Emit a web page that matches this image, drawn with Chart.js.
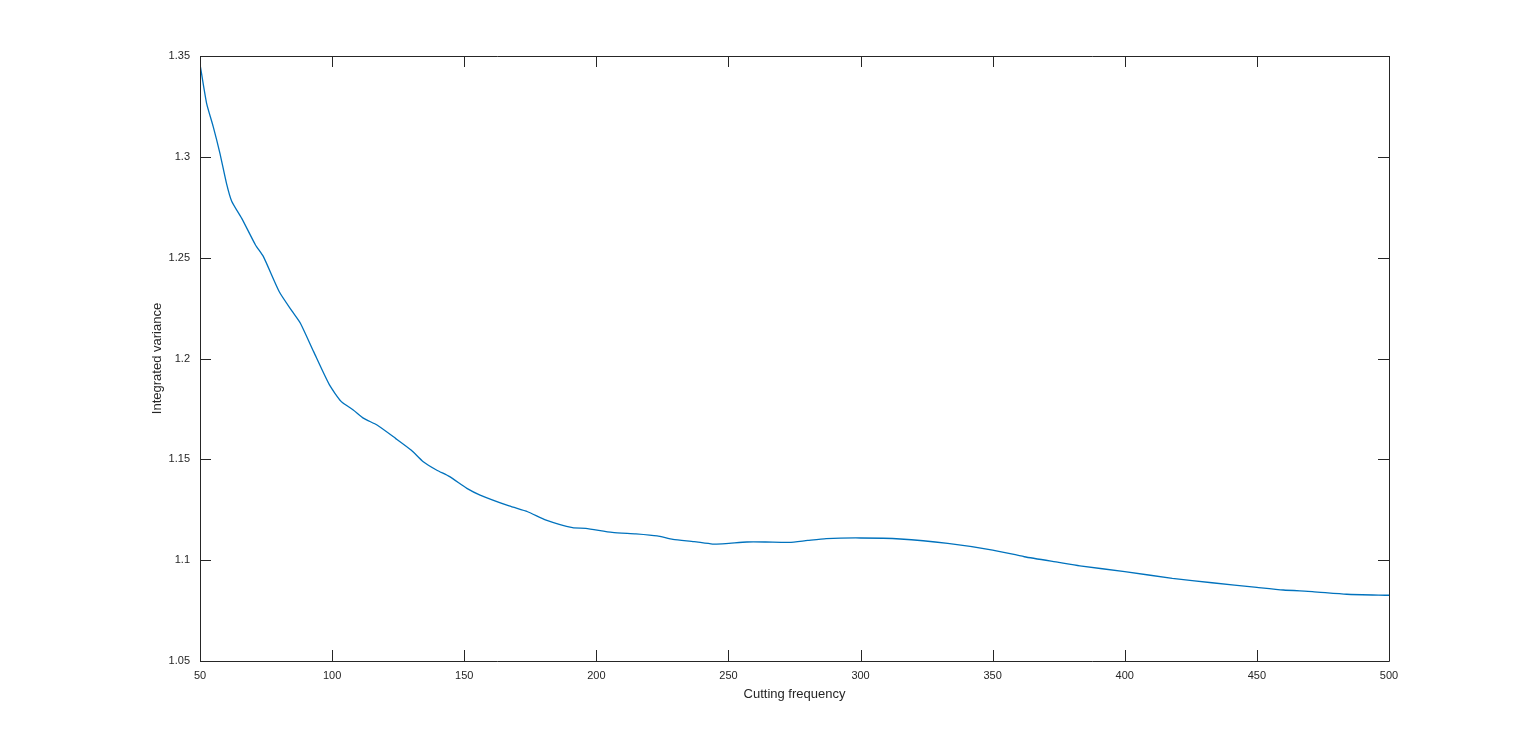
<!DOCTYPE html>
<html>
<head>
<meta charset="utf-8">
<script src="https://cdn.jsdelivr.net/npm/chart.js@4/dist/chart.umd.min.js"></script>
<style>
  html, body { margin: 0; padding: 0; background: #fff; }
  canvas { display: block; }
</style>
</head>
<body>
<canvas id="chart" width="1536" height="744"></canvas>
<script>
// values
var freq = [50, 52.5, 55, 57.5, 60, 62, 66, 71, 74, 80, 85, 88, 93, 99, 103.5, 108, 112, 117,
    124, 130, 134.5, 139.5, 144.5, 151, 156, 167, 174, 181, 191, 196, 206, 215, 223, 229,
    237, 244, 249, 257, 264, 273, 280, 287, 300, 315, 333, 350, 362, 375, 383, 400, 418,
    433, 450, 460, 471, 484, 500];
var variance = [1.346, 1.3265, 1.315, 1.302, 1.287, 1.278, 1.269, 1.2563, 1.2505, 1.2331,
    1.2232, 1.2175, 1.2034, 1.1869, 1.1786, 1.1745, 1.1703, 1.167, 1.1604, 1.1545, 1.1488,
    1.1447, 1.1414, 1.1356, 1.1323, 1.1269, 1.124, 1.1199, 1.1161, 1.1158, 1.1138, 1.113,
    1.112, 1.1103, 1.1092, 1.108, 1.1082, 1.109, 1.109, 1.1088, 1.1098, 1.1107, 1.111,
    1.1105, 1.1083, 1.105, 1.1017, 1.0989, 1.0972, 1.0943, 1.091, 1.0888, 1.0865, 1.0852,
    1.0844, 1.0831, 1.0826];
var xTicks = [50, 100, 150, 200, 250, 300, 350, 400, 450, 500];
var yTicks = [1.05, 1.1, 1.15, 1.2, 1.25, 1.3, 1.35];
var yTickLabels = ['1.05', '1.1', '1.15', '1.2', '1.25', '1.3', '1.35'];

var axisColor = '#262626';
var fontFamily = '"Liberation Sans", Arial, Helvetica, sans-serif';

// MATLAB style box with inward ticks on all four sides
var boxPlugin = {
    id: 'box',
    afterDraw: function (chart) {
        var c = chart.ctx, a = chart.chartArea;
        var xs = chart.scales.x, ys = chart.scales.y;
        var len = 11;
        c.save();
        c.strokeStyle = axisColor;
        c.lineWidth = 1;
        c.beginPath();
        c.rect(a.left + 0.5, a.top + 0.5, a.right - a.left, a.bottom - a.top);
        xTicks.forEach(function (v) {
            var px = Math.round(xs.getPixelForValue(v)) + 0.5;
            c.moveTo(px, a.bottom); c.lineTo(px, a.bottom - len);
            c.moveTo(px, a.top); c.lineTo(px, a.top + len);
        });
        yTicks.forEach(function (v) {
            var py = Math.round(ys.getPixelForValue(v)) + 0.5;
            c.moveTo(a.left, py); c.lineTo(a.left + len, py);
            c.moveTo(a.right, py); c.lineTo(a.right - len, py);
        });
        c.stroke();
        c.restore();
    }
};

var ctx = document.getElementById('chart').getContext('2d');
var myChart = new Chart(ctx, {
    type: 'line',
    data: {
        datasets: [{
            data: freq.map(function (f, i) { return { x: f, y: variance[i] }; }),
            borderColor: '#0072BD',
            borderWidth: 1.3,
            pointRadius: 0,
            tension: 0.2,
            fill: false
        }]
    },
    options: {
        responsive: false,
        devicePixelRatio: 1,
        animation: false,
        layout: { padding: { left: 140, right: 147, top: 56, bottom: 30 } },
        plugins: { legend: { display: false }, tooltip: { enabled: false } },
        scales: {
            x: {
                type: 'linear',
                min: 50, max: 500,
                afterBuildTicks: function (s) { s.ticks = xTicks.map(function (v) { return { value: v }; }); },
                afterFit: function (s) { s.height = 53; },
                grid: { display: false, drawTicks: false },
                border: { display: false },
                ticks: {
                    padding: 8,
                    color: axisColor,
                    font: { family: fontFamily, size: 11 },
                    maxRotation: 0
                },
                title: {
                    display: true,
                    text: 'Cutting frequency',
                    color: axisColor,
                    font: { family: fontFamily, size: 13 },
                    padding: { top: 4, bottom: 12 }
                }
            },
            y: {
                type: 'linear',
                min: 1.05, max: 1.35,
                afterBuildTicks: function (s) { s.ticks = yTicks.map(function (v) { return { value: v }; }); },
                afterFit: function (s) { s.width = 60; },
                grid: { display: false, drawTicks: false },
                border: { display: false },
                ticks: {
                    padding: 10,
                    color: axisColor,
                    font: { family: fontFamily, size: 11 },
                    callback: function (v) {
                        var i = yTicks.indexOf(Math.round(v * 100) / 100);
                        return i >= 0 ? yTickLabels[i] : '';
                    }
                },
                title: {
                    display: true,
                    text: 'Integrated variance',
                    color: axisColor,
                    font: { family: fontFamily, size: 13 },
                    padding: { top: 10, bottom: 2 }
                }
            }
        }
    },
    plugins: [boxPlugin]
});
</script>
</body>
</html>
